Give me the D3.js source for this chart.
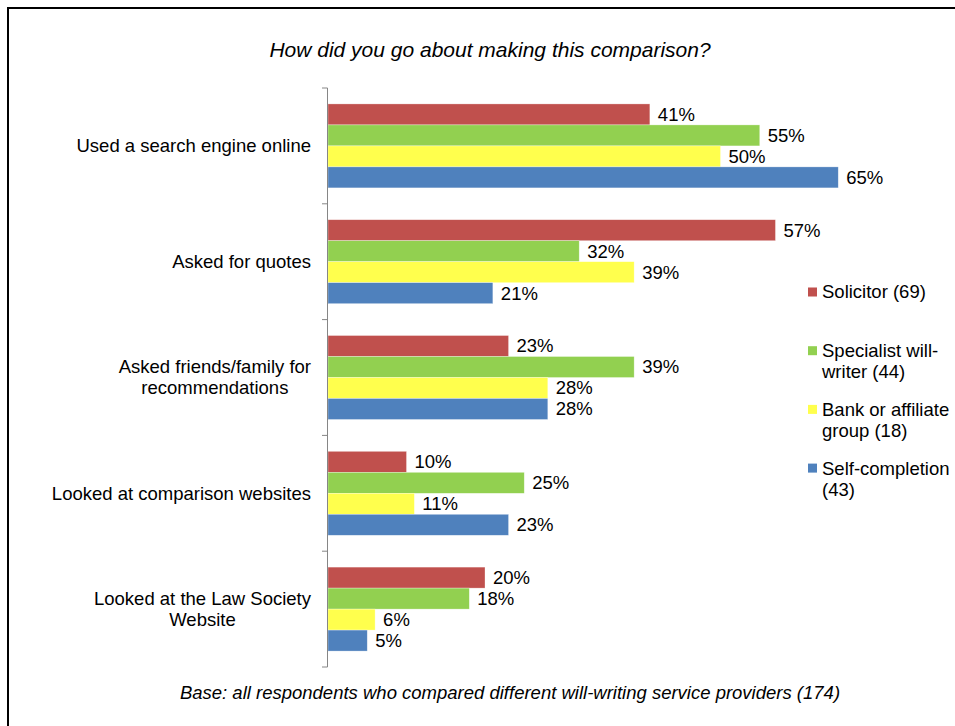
<!DOCTYPE html>
<html>
<head>
<meta charset="utf-8">
<script src="https://cdn.jsdelivr.net/npm/d3@7"></script>
<style>
  body { margin: 0; background: #fff; }
  text { font-family: Arial, "Liberation Sans", sans-serif; fill: #000; }
</style>
</head>
<body>
<div id="vis"></div>
<script>
const categories = [
    'Used a search engine online',
    'Asked for quotes',
    'Asked friends/family for\nrecommendations',
    'Looked at comparison websites',
    'Looked at the Law Society\nWebsite'
];
const seriesNames = ['Solicitor (69)', 'Specialist will-\nwriter (44)', 'Bank or affiliate\ngroup (18)', 'Self-completion\n(43)'];
const solicitor = [41, 57, 23, 10, 20];
const willWriter = [55, 32, 39, 25, 18];
const bank = [50, 39, 28, 11, 6];
const selfCompletion = [65, 21, 28, 23, 5];
const colors = ['#C0504D', '#92D050', '#FFFF4D', '#4F81BD'];

const title = 'How did you go about making this comparison?';
const footnote = 'Base: all respondents who compared different will-writing service providers (174)';

const width = 955;
const height = 726;
const margin = { top: 88, bottom: 59, left: 328 };
const fontSize = '18.5px';

const allSeries = [solicitor, willWriter, bank, selfCompletion];
const data = categories.map((c, i) => ({
    category: c,
    values: allSeries.map((s, j) => ({ key: j, value: s[i] }))
}));

const svg = d3.select('#vis')
    .append('svg')
    .attr('width', width)
    .attr('height', height);

// outer frame
svg.append('rect')
    .attr('x', 8)
    .attr('y', 8)
    .attr('width', 980)
    .attr('height', 760)
    .attr('fill', 'none')
    .attr('stroke', '#000')
    .attr('stroke-width', 2);

const x = d3.scaleLinear()
    .domain([0, 70])
    .range([margin.left, margin.left + 549.5]);

const y = d3.scaleBand()
    .domain(categories)
    .range([margin.top, height - margin.bottom]);

const gap = y.bandwidth() * 0.275;
const y1 = d3.scaleBand()
    .domain(d3.range(4))
    .range([gap / 2, y.bandwidth() - gap / 2]);

svg.append('text')
    .attr('x', 490)
    .attr('y', 50)
    .attr('dy', '0.35em')
    .attr('text-anchor', 'middle')
    .attr('font-size', '21px')
    .attr('font-style', 'italic')
    .text(title);

const groups = svg.selectAll('g.group')
    .data(data)
    .join('g')
    .attr('class', 'group')
    .attr('transform', d => `translate(0, ${y(d.category)})`);

groups.selectAll('rect')
    .data(d => d.values)
    .join('rect')
    .attr('x', x(0))
    .attr('y', d => y1(d.key))
    .attr('width', d => x(d.value) - x(0))
    .attr('height', y1.bandwidth())
    .attr('fill', d => colors[d.key])
    .attr('stroke', '#fff')
    .attr('stroke-opacity', 0.5)
    .attr('stroke-width', 0.6);

groups.selectAll('text.val')
    .data(d => d.values)
    .join('text')
    .attr('class', 'val')
    .attr('x', d => x(d.value) + 8)
    .attr('y', d => y1(d.key) + y1.bandwidth() / 2)
    .attr('dy', '0.35em')
    .attr('font-size', fontSize)
    .text(d => d.value + '%');

// vertical axis with ticks at category boundaries
const axis = svg.append('g').attr('stroke', '#868686');
axis.append('line')
    .attr('x1', x(0) - 0.5).attr('x2', x(0) - 0.5)
    .attr('y1', y.range()[0]).attr('y2', y.range()[1]);
axis.selectAll('line.tick')
    .data(categories.map(c => y(c)).concat([y.range()[1]]))
    .join('line')
    .attr('class', 'tick')
    .attr('x1', x(0) - 6).attr('x2', x(0) - 0.5)
    .attr('y1', d => d).attr('y2', d => d);

// category labels: block right-aligned, lines centred inside it
const lineH = 21;
groups.each(function (d) {
    const lines = d.category.split('\n');
    const g = d3.select(this).append('g');
    const t = g.selectAll('text.cat')
        .data(lines)
        .join('text')
        .attr('class', 'cat')
        .attr('font-size', fontSize)
        .attr('dy', '0.35em')
        .attr('y', (l, i) => y.bandwidth() / 2 + (i - (lines.length - 1) / 2) * lineH)
        .text(l => l);
    let maxW = 0;
    t.each(function () { maxW = Math.max(maxW, this.getComputedTextLength()); });
    t.attr('text-anchor', 'middle').attr('x', 311 - maxW / 2);
});

// legend
const legend = svg.append('g')
    .attr('transform', 'translate(808, 292)');
const entries = legend.selectAll('g')
    .data(seriesNames)
    .join('g')
    .attr('transform', (d, i) => `translate(0, ${i * 58.7})`);
entries.append('rect')
    .attr('x', 0)
    .attr('y', -4.5)
    .attr('width', 9)
    .attr('height', 9)
    .attr('fill', (d, i) => colors[i]);
entries.selectAll('text')
    .data(d => d.split('\n'))
    .join('text')
    .attr('x', 14)
    .attr('y', (l, i) => i * lineH)
    .attr('dy', '0.35em')
    .attr('font-size', fontSize)
    .text(l => l);

svg.append('text')
    .attr('x', 510)
    .attr('y', 693)
    .attr('dy', '0.35em')
    .attr('text-anchor', 'middle')
    .attr('font-size', fontSize)
    .attr('font-style', 'italic')
    .text(footnote);
</script>
</body>
</html>
